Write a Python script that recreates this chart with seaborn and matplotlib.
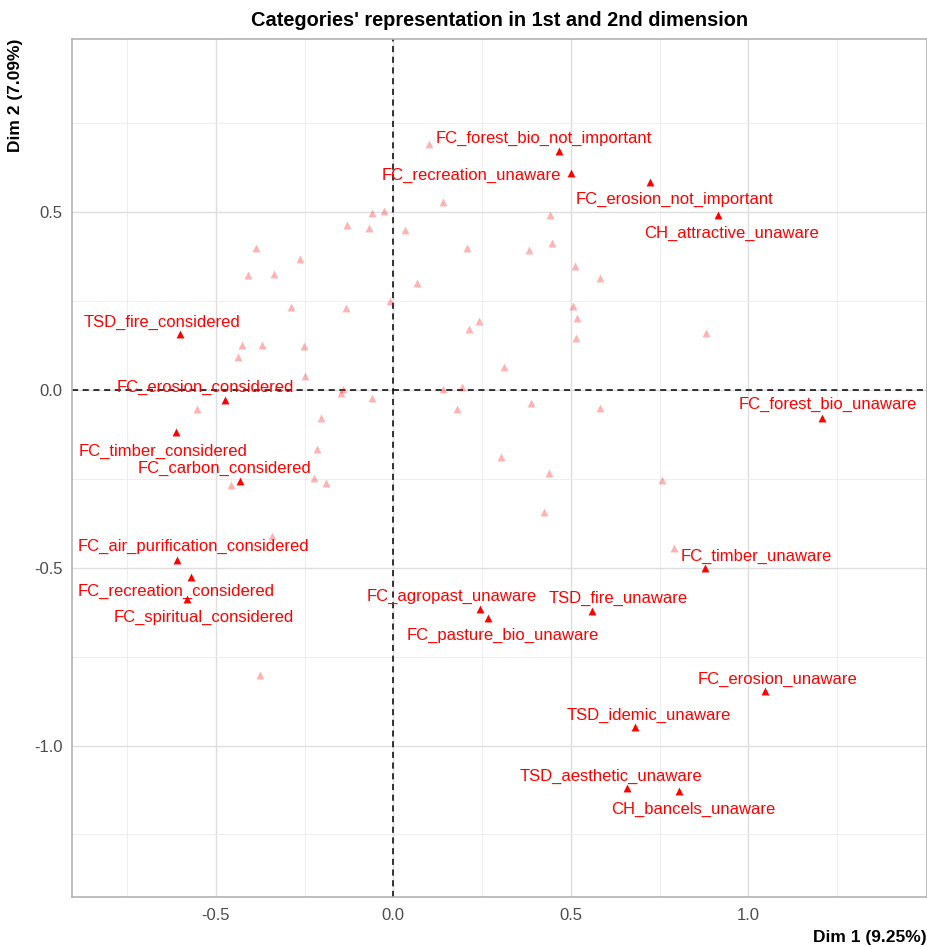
import matplotlib
matplotlib.use("Agg")
import matplotlib.pyplot as plt
import seaborn as sns
import pandas as pd
from matplotlib.ticker import AutoMinorLocator

# ---------------- data ----------------
top_names = [
    "FC_forest_bio_not_important", "FC_recreation_unaware", "FC_erosion_not_important",
    "CH_attractive_unaware", "TSD_fire_considered", "FC_erosion_considered",
    "FC_timber_considered", "FC_carbon_considered", "FC_air_purification_considered",
    "FC_recreation_considered", "FC_spiritual_considered", "FC_forest_bio_unaware",
    "FC_timber_unaware", "FC_agropast_unaware", "FC_pasture_bio_unaware",
    "TSD_fire_unaware", "FC_erosion_unaware", "TSD_idemic_unaware",
    "TSD_aesthetic_unaware", "CH_bancels_unaware",
]
top_dim1 = [0.467, 0.501, 0.722, 0.914, -0.602, -0.473, -0.611, -0.431, -0.610, -0.570,
            -0.580, 1.206, 0.879, 0.244, 0.268, 0.560, 1.046, 0.680, 0.657, 0.804]
top_dim2 = [0.672, 0.609, 0.586, 0.491, 0.157, -0.029, -0.119, -0.257, -0.478, -0.525,
            -0.588, -0.080, -0.501, -0.616, -0.640, -0.623, -0.848, -0.948, -1.120, -1.128]

other_dim1 = [0.100, 0.139, -0.059, -0.025, -0.130, -0.069, 0.033, 0.208, -0.387, -0.264,
              -0.409, -0.335, 0.067, -0.008, -0.288, -0.132, 0.241, 0.212, -0.425, -0.369,
              -0.252, -0.437, -0.249, -0.141, -0.147, -0.061, 0.141, 0.194, 0.178, -0.554,
              -0.204, 0.441, 0.448, 0.382, 0.513, 0.583, 0.507, 0.518, 0.515, 0.881,
              0.311, -0.216, -0.223, -0.191, -0.456, -0.343, -0.375, 0.389, 0.583, 0.303,
              0.439, 0.758, 0.424, 0.790]
other_dim2 = [0.693, 0.528, 0.498, 0.502, 0.464, 0.456, 0.449, 0.399, 0.399, 0.368,
              0.323, 0.327, 0.301, 0.251, 0.233, 0.230, 0.194, 0.172, 0.127, 0.127,
              0.123, 0.093, 0.039, 0.002, -0.009, -0.023, 0.002, 0.008, -0.053, -0.053,
              -0.078, 0.492, 0.413, 0.394, 0.348, 0.315, 0.235, 0.201, 0.145, 0.160,
              0.065, -0.165, -0.248, -0.263, -0.267, -0.411, -0.803, -0.037, -0.052, -0.189,
              -0.233, -0.254, -0.343, -0.445]

x_ticks = [-0.5, 0.0, 0.5, 1.0]
y_ticks = [-1.0, -0.5, 0.0, 0.5]
title = "Categories' representation in 1st and 2nd dimension"
x_title = "Dim 1 (9.25%)"
y_title = "Dim 2 (7.09%)"

# label offsets (pixels) as placed by the repel algorithm
label_offsets = [(-15, 13), (-100, -2), (25, -18), (14, -18), (-18, 12), (-20, 13),
                 (-13, -19), (-16, 13), (17, 13), (-15, -15), (16, -18), (6, 14),
                 (51, 12), (-28, 13), (14, -18), (26, 13), (13, 12), (14, 12),
                 (-16, 12), (14, -18)]

top_df = pd.DataFrame({"Dim1": top_dim1, "Dim2": top_dim2, "name": top_names})
other_df = pd.DataFrame({"Dim1": other_dim1, "Dim2": other_dim2})

# ---------------- plot ----------------
sns.set_theme(style="white")
plt.rcParams["font.family"] = ["Liberation Sans", "DejaVu Sans"]

fig = plt.figure(figsize=(9.28, 9.47), dpi=100)
ax = fig.add_axes([72 / 928, 50 / 947, 855 / 928, 858 / 947])

ax.axhline(0, color="black", lw=1.1, ls=(0, (4, 3)), zorder=2)
ax.axvline(0, color="black", lw=1.1, ls=(0, (4, 3)), zorder=2)

sns.scatterplot(data=other_df, x="Dim1", y="Dim2", marker="^", color="#FF0000",
                alpha=0.3, s=32, linewidth=0, ax=ax, zorder=3)
sns.scatterplot(data=top_df, x="Dim1", y="Dim2", marker="^", color="#FF0000",
                s=32, linewidth=0, ax=ax, zorder=4)

for (name, x, y), (dx, dy) in zip(zip(top_names, top_dim1, top_dim2), label_offsets):
    ax.annotate(name, xy=(x, y), xytext=(dx, dy), textcoords="offset pixels",
                ha="center", va="center", color="#FF0000", fontsize=12, zorder=5)

ax.set_xlim(-0.905, 1.503)
ax.set_ylim(-1.426, 0.987)
ax.set_xticks(x_ticks)
ax.set_yticks(y_ticks)
ax.set_xticklabels([f"{v:.1f}" for v in x_ticks])
ax.set_yticklabels([f"{v:.1f}" for v in y_ticks])
ax.xaxis.set_minor_locator(AutoMinorLocator(2))
ax.yaxis.set_minor_locator(AutoMinorLocator(2))
ax.grid(which="major", color="#DEDEDE", lw=1.0, zorder=0)
ax.grid(which="minor", color="#EBEBEB", lw=0.6, zorder=0)
ax.set_axisbelow(True)
ax.tick_params(which="major", length=3.3, width=0.8, color="#B3B3B3",
               labelcolor="#4D4D4D", labelsize=12)
ax.tick_params(axis="x", which="major", pad=4.5)
ax.tick_params(axis="y", which="major", pad=3.5)
ax.tick_params(which="minor", length=0)
for sp in ax.spines.values():
    sp.set_visible(True)
    sp.set_color("#B3B3B3")
    sp.set_linewidth(1.2)

ax.set_xlabel(x_title, fontsize=12.5, fontweight="bold", loc="right", labelpad=5,
              color="black")
ax.set_ylabel(y_title, fontsize=12.5, fontweight="bold", loc="top", labelpad=8,
              color="black")
ax.set_title(title, fontsize=14.4, fontweight="bold", pad=9, color="black")

fig.savefig("out.png", dpi=100)
